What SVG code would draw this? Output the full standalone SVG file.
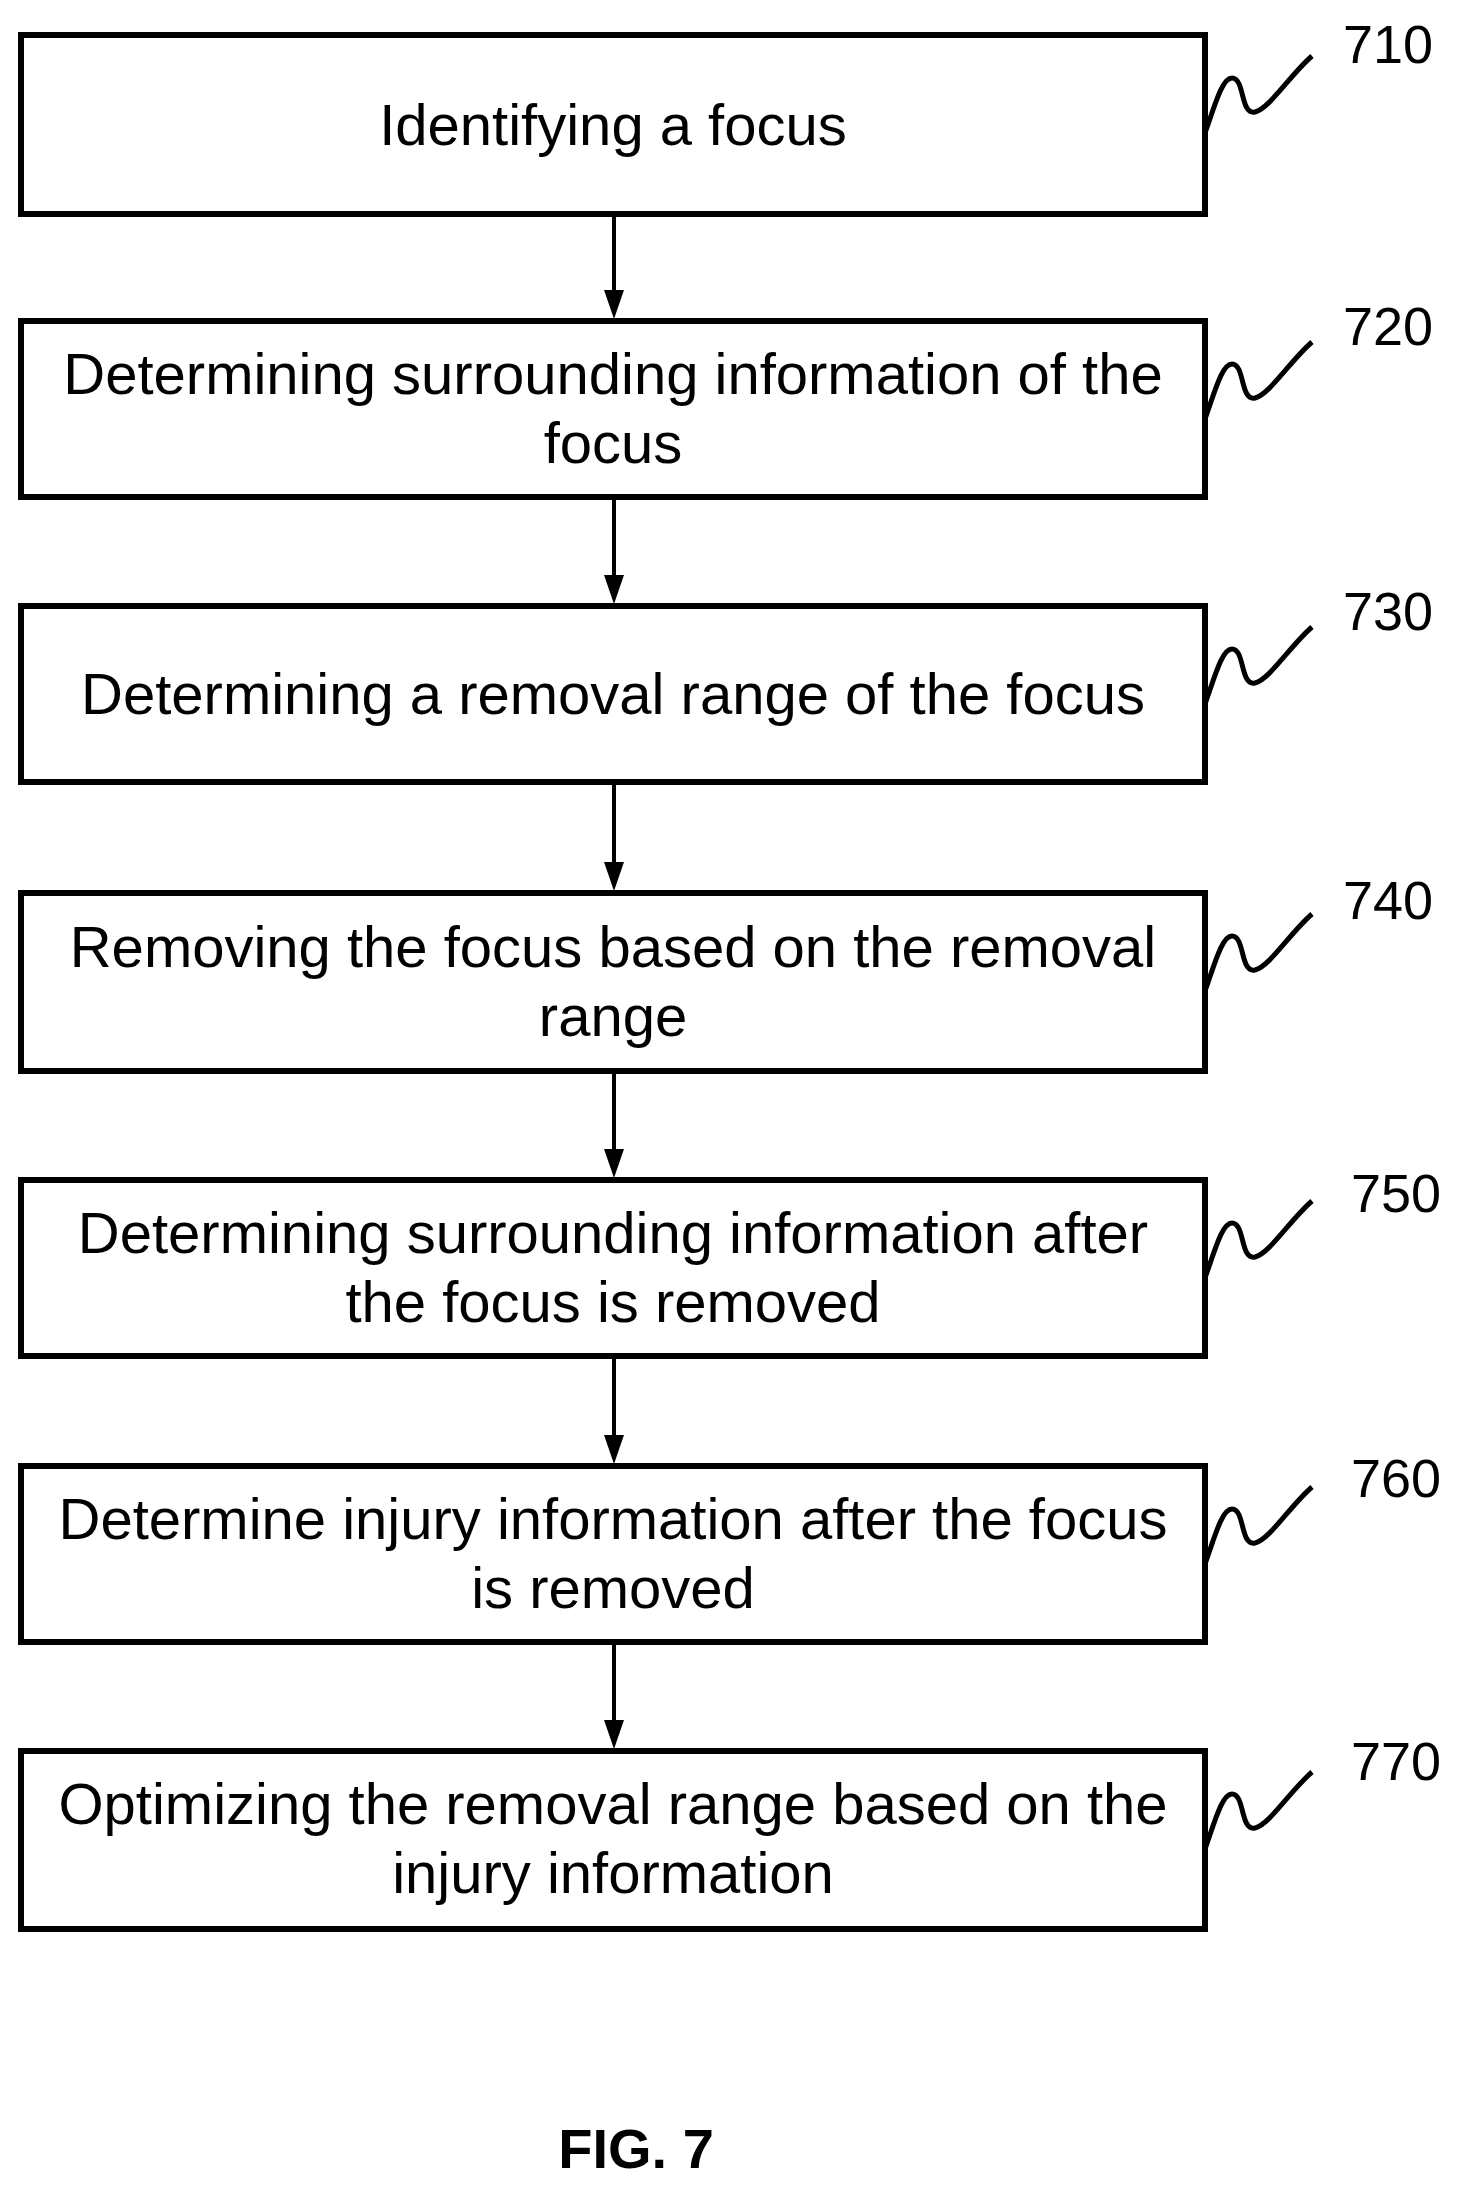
<svg xmlns="http://www.w3.org/2000/svg" width="1468" height="2190" viewBox="0 0 1468 2190">
<style>
.box{fill:#fff;stroke:#000;stroke-width:6}
.t{font-family:"Liberation Sans",Arial,Helvetica,sans-serif;font-size:58px;text-anchor:middle;fill:#000}
.lbl{font-family:"Liberation Sans",Arial,Helvetica,sans-serif;font-size:54px;fill:#000}
.sq{fill:none;stroke:#000;stroke-width:5}
.c{stroke:#000;stroke-width:4;fill:none}
</style>
<g id="connectors">
<line class="c" x1="614" y1="216" x2="614" y2="292"/><polygon points="604,290 624,290 614,319"/>
<line class="c" x1="614" y1="499" x2="614" y2="577"/><polygon points="604,575 624,575 614,604"/>
<line class="c" x1="614" y1="784" x2="614" y2="864"/><polygon points="604,862 624,862 614,891"/>
<line class="c" x1="614" y1="1073" x2="614" y2="1151"/><polygon points="604,1149 624,1149 614,1178"/>
<line class="c" x1="614" y1="1358" x2="614" y2="1437"/><polygon points="604,1435 624,1435 614,1464"/>
<line class="c" x1="614" y1="1644" x2="614" y2="1722"/><polygon points="604,1720 624,1720 614,1749"/>
</g>
<g id="n710">
<rect class="box" x="21" y="35" width="1184" height="179"/>
<text class="t" x="613" y="145">Identifying a focus</text>
<path class="sq" d="M1205,133 C1215,105 1222,78 1232,78 C1245,78 1240,115 1255,112 C1270,108 1290,75 1312,56"/>
<text class="lbl" x="1343" y="63">710</text>
</g>
<g id="n720">
<rect class="box" x="21" y="321" width="1184" height="176"/>
<text class="t" x="613" y="394">Determining surrounding information of the</text>
<text class="t" x="613" y="463">focus</text>
<path class="sq" d="M1205,419 C1215,391 1222,364 1232,364 C1245,364 1240,401 1255,398 C1270,394 1290,361 1312,342"/>
<text class="lbl" x="1343" y="345">720</text>
</g>
<g id="n730">
<rect class="box" x="21" y="606" width="1184" height="176"/>
<text class="t" x="613" y="714">Determining a removal range of the focus</text>
<path class="sq" d="M1205,704 C1215,676 1222,649 1232,649 C1245,649 1240,686 1255,683 C1270,679 1290,646 1312,627"/>
<text class="lbl" x="1343" y="630">730</text>
</g>
<g id="n740">
<rect class="box" x="21" y="893" width="1184" height="178"/>
<text class="t" x="613" y="967">Removing the focus based on the removal</text>
<text class="t" x="613" y="1036">range</text>
<path class="sq" d="M1205,991 C1215,963 1222,936 1232,936 C1245,936 1240,973 1255,970 C1270,966 1290,933 1312,914"/>
<text class="lbl" x="1343" y="919">740</text>
</g>
<g id="n750">
<rect class="box" x="21" y="1180" width="1184" height="176"/>
<text class="t" x="613" y="1253">Determining surrounding information after</text>
<text class="t" x="613" y="1322">the focus is removed</text>
<path class="sq" d="M1205,1278 C1215,1250 1222,1223 1232,1223 C1245,1223 1240,1260 1255,1257 C1270,1253 1290,1220 1312,1201"/>
<text class="lbl" x="1351" y="1212">750</text>
</g>
<g id="n760">
<rect class="box" x="21" y="1466" width="1184" height="176"/>
<text class="t" x="613" y="1539">Determine injury information after the focus</text>
<text class="t" x="613" y="1608">is removed</text>
<path class="sq" d="M1205,1564 C1215,1536 1222,1509 1232,1509 C1245,1509 1240,1546 1255,1543 C1270,1539 1290,1506 1312,1487"/>
<text class="lbl" x="1351" y="1497">760</text>
</g>
<g id="n770">
<rect class="box" x="21" y="1751" width="1184" height="178"/>
<text class="t" x="613" y="1824">Optimizing the removal range based on the</text>
<text class="t" x="613" y="1893">injury information</text>
<path class="sq" d="M1205,1849 C1215,1821 1222,1794 1232,1794 C1245,1794 1240,1831 1255,1828 C1270,1824 1290,1791 1312,1772"/>
<text class="lbl" x="1351" y="1780">770</text>
</g>
<text x="636" y="2168" font-family="Liberation Sans,Arial,Helvetica,sans-serif" font-size="56" font-weight="bold" text-anchor="middle">FIG. 7</text>
</svg>
